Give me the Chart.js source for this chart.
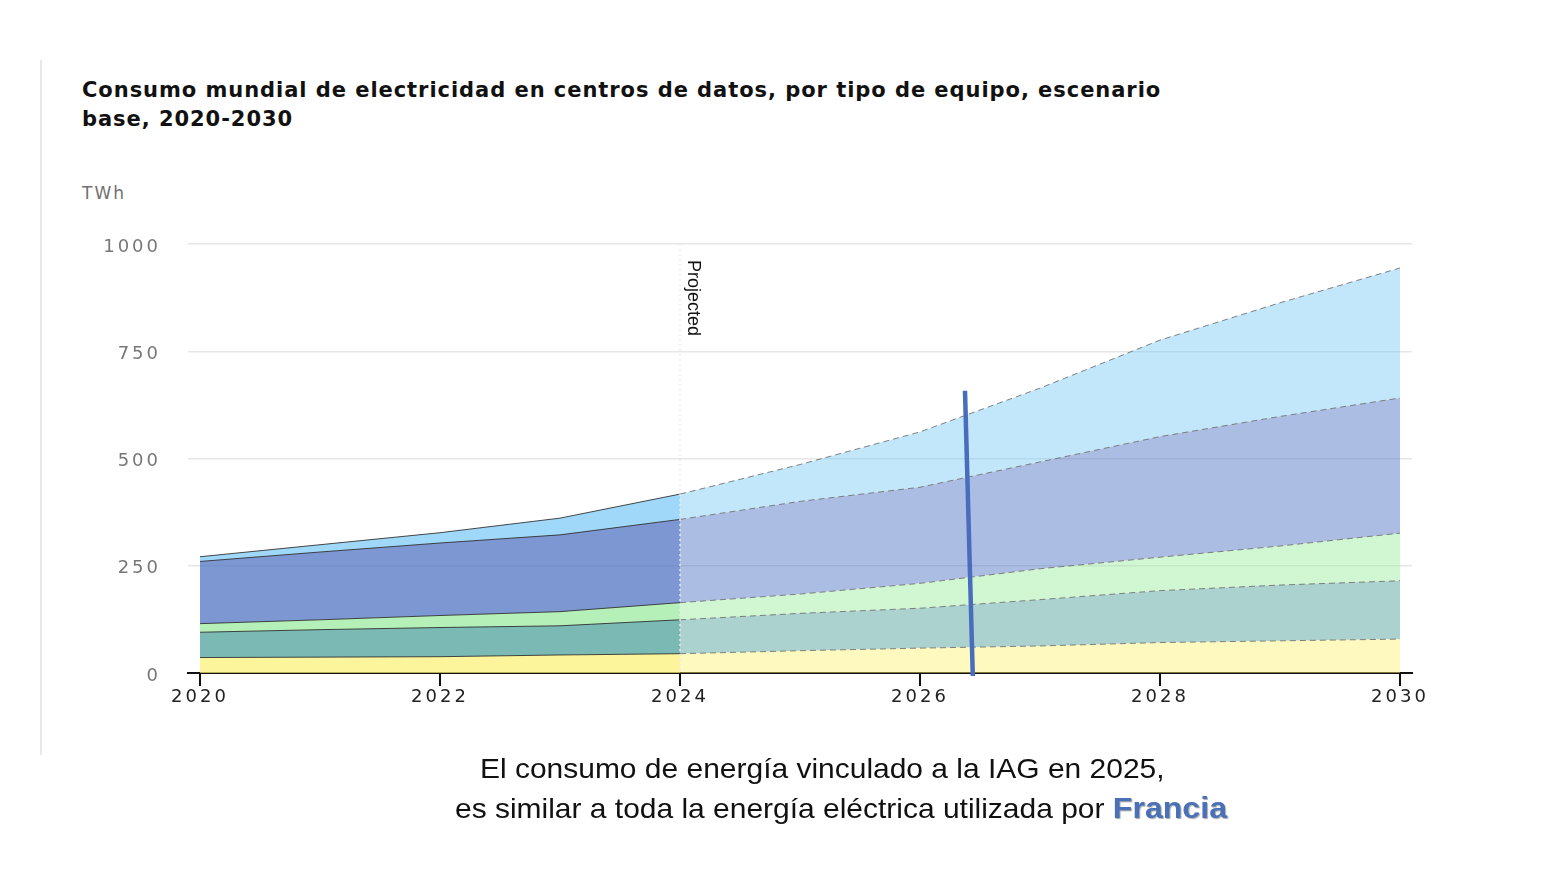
<!DOCTYPE html>
<html lang="es">
<head>
<meta charset="utf-8">
<title>Consumo mundial de electricidad en centros de datos</title>
<script src="https://cdn.jsdelivr.net/npm/chart.js@4.4.1/dist/chart.umd.min.js"></script>
<style>
  html, body { margin: 0; padding: 0; background: #fff; }
  body { width: 1548px; height: 872px; position: relative; overflow: hidden; }
  #chart { position: absolute; left: 0; top: 0; }
  .rule { position: absolute; left: 40px; top: 60px; width: 2px; height: 695px; background: #e8e8e8; }
  .title { position: absolute; left: 82px; top: 76px; font: bold 21px "DejaVu Sans"; line-height: 29px;
           letter-spacing: 0.95px; color: #111; white-space: nowrap; }
  .unit { position: absolute; left: 82px; top: 182px; font: 17px "DejaVu Sans"; line-height: 22px;
          letter-spacing: 2px; color: #707070; }
  .caption { position: absolute; font: 28px "Liberation Sans", Arial, sans-serif; line-height: 28px;
             color: #111; white-space: nowrap; transform: scaleX(1.07); transform-origin: 0 0; }
  .caption b { color: #4a70b8; font-size: 30px; text-shadow: 1px 1px 1px rgba(0,0,0,0.35); }
</style>
</head>
<body>
<div class="rule"></div>
<div class="title">Consumo mundial de electricidad en centros de datos, por tipo de equipo, escenario<br>base, 2020-2030</div>
<div class="unit">TWh</div>
<canvas id="chart" width="1548" height="872"></canvas>
<div class="caption" style="left:480px; top:755px;">El consumo de energía vinculado a la IAG en 2025,</div>
<div class="caption" style="left:455px; top:794px;">es similar a toda la energía eléctrica utilizada por <b>Francia</b></div>

<script>
// datos (TWh, por capa, de abajo arriba)
const years = [2020, 2021, 2022, 2023, 2024, 2025, 2026, 2027, 2028, 2029, 2030];
const redes = [36, 37, 38, 42, 45, 52, 58, 63, 71, 75, 79];
const infraestructura = [59, 64, 68, 68, 79, 87, 93, 108, 121, 130, 136];
const almacenamiento = [20, 23, 28, 33, 40, 45, 58, 72, 78, 91, 111];
const servConvencionales = [145, 158, 169, 179, 194, 216, 224, 249, 281, 302, 315];
const servAcelerados = [11, 17, 24, 39, 59, 86, 129, 172, 225, 265, 303];

const xTicks = [2020, 2022, 2024, 2026, 2028, 2030];
const yTicks = [0, 250, 500, 750, 1000];
const projStart = 2024;
// línea azul añadida encima (en unidades de datos)
const marcador = { x0: 2026.375, y0: 658, x1: 2026.44, y1: -7 };

const series = [
  { label: 'Redes', data: redes, rgb: [252, 241, 114] },
  { label: 'Infraestructura', data: infraestructura, rgb: [68, 156, 149] },
  { label: 'Almacenamiento', data: almacenamiento, rgb: [151, 234, 155] },
  { label: 'Servidores convencionales', data: servConvencionales, rgb: [72, 109, 193] },
  { label: 'Servidores acelerados', data: servAcelerados, rgb: [120, 200, 245] }
];

const rgba = (c, a) => `rgba(${c[0]},${c[1]},${c[2]},${a})`;
const isProj = ctx => ctx.p0.parsed.x >= projStart;

const datasets = series.map((s, i) => ({
  label: s.label,
  data: years.map((yr, k) => ({ x: yr, y: s.data[k] })),
  fill: i === 0 ? 'origin' : '-1',
  backgroundColor: rgba(s.rgb, 0.71),
  borderColor: 'rgba(40,40,40,0.85)',
  borderWidth: 1,
  pointRadius: 0,
  tension: 0,
  segment: {
    borderDash: ctx => isProj(ctx) ? [6, 4] : undefined,
    borderColor: ctx => isProj(ctx) ? 'rgba(115,115,115,0.9)' : undefined,
    backgroundColor: ctx => isProj(ctx) ? rgba(s.rgb, 0.45) : undefined
  }
}));

const overlay = {
  id: 'overlay',
  beforeDraw(chart) {
    chart.ctx.letterSpacing = '3px';
  },
  afterDatasetsDraw(chart) {
    const { ctx, chartArea: a, scales: { x } } = chart;
    const px = x.getPixelForValue(projStart);
    ctx.save();
    ctx.letterSpacing = '0px';
    ctx.strokeStyle = 'rgba(235,235,235,0.95)';
    ctx.lineWidth = 1.5;
    ctx.setLineDash([2, 3]);
    ctx.beginPath();
    ctx.moveTo(px, a.top);
    ctx.lineTo(px, a.bottom);
    ctx.stroke();
    ctx.setLineDash([]);
    ctx.translate(px + 8, a.top + 16);
    ctx.rotate(Math.PI / 2);
    ctx.font = '18px "Liberation Sans"';
    ctx.fillStyle = '#111';
    ctx.textAlign = 'left';
    ctx.textBaseline = 'alphabetic';
    ctx.fillText('Projected', 0, 0);
    ctx.restore();
  },
  afterDraw(chart) {
    const { ctx, scales: { x, y } } = chart;
    ctx.save();
    ctx.strokeStyle = '#4a6cbd';
    ctx.lineWidth = 4.5;
    ctx.beginPath();
    ctx.moveTo(x.getPixelForValue(marcador.x0), y.getPixelForValue(marcador.y0));
    ctx.lineTo(x.getPixelForValue(marcador.x1), y.getPixelForValue(marcador.y1));
    ctx.stroke();
    ctx.restore();
    ctx.letterSpacing = '0px';
  }
};

new Chart(document.getElementById('chart'), {
  type: 'line',
  data: { datasets },
  options: {
    responsive: false,
    animation: false,
    layout: { padding: { left: 88, right: 136, top: 244, bottom: 159 } },
    plugins: { legend: { display: false }, tooltip: { enabled: false } },
    scales: {
      x: {
        type: 'linear',
        min: 2019.9,
        max: 2030.1,
        afterBuildTicks: s => { s.ticks = xTicks.map(v => ({ value: v })); },
        afterFit: s => { s.height = 40; },
        ticks: {
          color: '#222',
          font: { family: 'DejaVu Sans', size: 18 },
          padding: 1,
          maxRotation: 0,
          autoSkip: false,
          callback: v => String(v)
        },
        grid: { drawOnChartArea: false, drawTicks: true, tickLength: 13, color: '#111', lineWidth: 2 },
        border: { display: true, color: '#111', width: 2 }
      },
      y: {
        stacked: true,
        min: 0,
        max: 1000,
        afterBuildTicks: s => { s.ticks = yTicks.map(v => ({ value: v })); },
        afterFit: s => { s.width = 100; },
        ticks: {
          color: '#777',
          font: { family: 'DejaVu Sans', size: 18 },
          padding: 27,
          labelOffset: 3,
          callback: v => String(v)
        },
        grid: { color: '#e6e6e6', lineWidth: 1.5, drawTicks: false },
        border: { display: false }
      }
    }
  },
  plugins: [overlay]
});
</script>
</body>
</html>
